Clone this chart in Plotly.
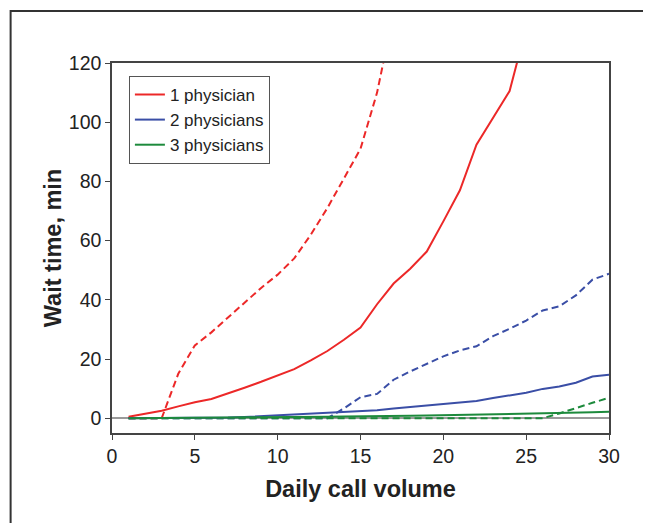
import plotly.graph_objects as go

x = list(range(1, 31))

one_solid = [0.5, 1.5, 2.5, 4.0, 5.4, 6.5, 8.3, 10.3, 12.3, 14.5, 16.6, 19.5, 22.7, 26.5, 30.6,
             38.5, 45.5, 50.5, 56.3, 66.5, 77.0, 92.4, 101.5, 110.5, 132.0]
x_one_solid = list(range(1, 26))

one_dash = [0.0, 0.0, 0.0, 15.0, 24.6, 29.0, 34.0, 39.3, 44.0, 48.5, 54.0, 62.0, 71.0, 81.0, 91.0,
            110.0, 137.0]
x_one_dash = list(range(1, 18))

two_solid = [0.0, 0.0, 0.0, 0.0, 0.05, 0.1, 0.2, 0.4, 0.7, 1.0, 1.3, 1.5, 1.8, 2.2, 2.5,
             2.7, 3.3, 3.8, 4.3, 4.9, 5.4, 5.8, 6.8, 7.7, 8.6, 9.9, 10.7, 12.0, 14.1, 14.7]
two_dash = [0.0] * 13 + [3.3, 7.1, 8.2, 13.0, 15.8, 18.4, 20.9, 22.9, 24.3, 27.7, 30.2, 33.0,
                         36.4, 37.8, 41.5, 46.8, 48.8]

three_solid = [0.0, 0.0, 0.1, 0.1, 0.1, 0.2, 0.2, 0.3, 0.3, 0.4, 0.4, 0.5, 0.5, 0.6, 0.6,
               0.7, 0.8, 0.8, 0.9, 1.0, 1.1, 1.1, 1.2, 1.3, 1.4, 1.5, 1.6, 1.8, 2.0, 2.2]
three_dash = [0.0] * 26 + [1.6, 3.5, 5.2, 6.9]

RED = "#ec2828"
BLUE = "#3a4ea6"
GREEN = "#1d8a3c"
DASH = "7px,4px"

fig = go.Figure()
fig.add_trace(go.Scatter(x=x_one_dash, y=one_dash, mode="lines", line=dict(color=RED, width=2, dash=DASH), showlegend=False))
fig.add_trace(go.Scatter(x=x, y=two_dash, mode="lines", line=dict(color=BLUE, width=2, dash=DASH), showlegend=False))
fig.add_trace(go.Scatter(x=x, y=three_dash, mode="lines", line=dict(color=GREEN, width=2, dash=DASH), showlegend=False))
fig.add_trace(go.Scatter(x=x_one_solid, y=one_solid, mode="lines", name="1 physician", line=dict(color=RED, width=2)))
fig.add_trace(go.Scatter(x=x, y=two_solid, mode="lines", name="2 physicians", line=dict(color=BLUE, width=2)))
fig.add_trace(go.Scatter(x=x, y=three_solid, mode="lines", name="3 physicians", line=dict(color=GREEN, width=2)))

FONT = "Liberation Sans, Arial, sans-serif"

# page body has an 8px margin, so the figure is sized/positioned to compensate
fig.update_layout(
    width=643, height=515,
    margin=dict(l=104, r=42, t=55, b=90),
    paper_bgcolor="white", plot_bgcolor="white",
    font=dict(family=FONT, color="#222", size=19.5),
    legend=dict(x=0.034, y=0.965, xanchor="left", yanchor="top",
                bordercolor="#555", borderwidth=1, bgcolor="white",
                font=dict(size=17, color="#222"), tracegroupgap=0),
    shapes=[dict(type="rect", xref="paper", yref="paper",
                 x0=-0.204, x1=1.3, y0=-0.4, y1=1.1405,
                 line=dict(color="#333", width=2), layer="below")],
)
fig.update_xaxes(range=[0, 30], tickvals=[0, 5, 10, 15, 20, 25, 30],
                 ticks="outside", ticklen=5, tickwidth=1, tickcolor="#444",
                 showline=True, linecolor="#444", linewidth=1.5, mirror=True,
                 showgrid=False, zeroline=False,
                 tickfont=dict(size=19.5),
                 title=dict(text="<b>Daily call volume</b>", font=dict(size=23.5), standoff=14))
fig.update_yaxes(range=[-5, 120], tickvals=[0, 20, 40, 60, 80, 100, 120],
                 ticks="outside", ticklen=5, tickwidth=1, tickcolor="#444",
                 showline=True, linecolor="#444", linewidth=1.5, mirror=True,
                 showgrid=False, zeroline=True, zerolinecolor="#9a9a9a", zerolinewidth=2,
                 tickfont=dict(size=19.5),
                 title=dict(text="<b>Wait time, min</b>", font=dict(size=23.5), standoff=1))

fig.write_html("out.html")
